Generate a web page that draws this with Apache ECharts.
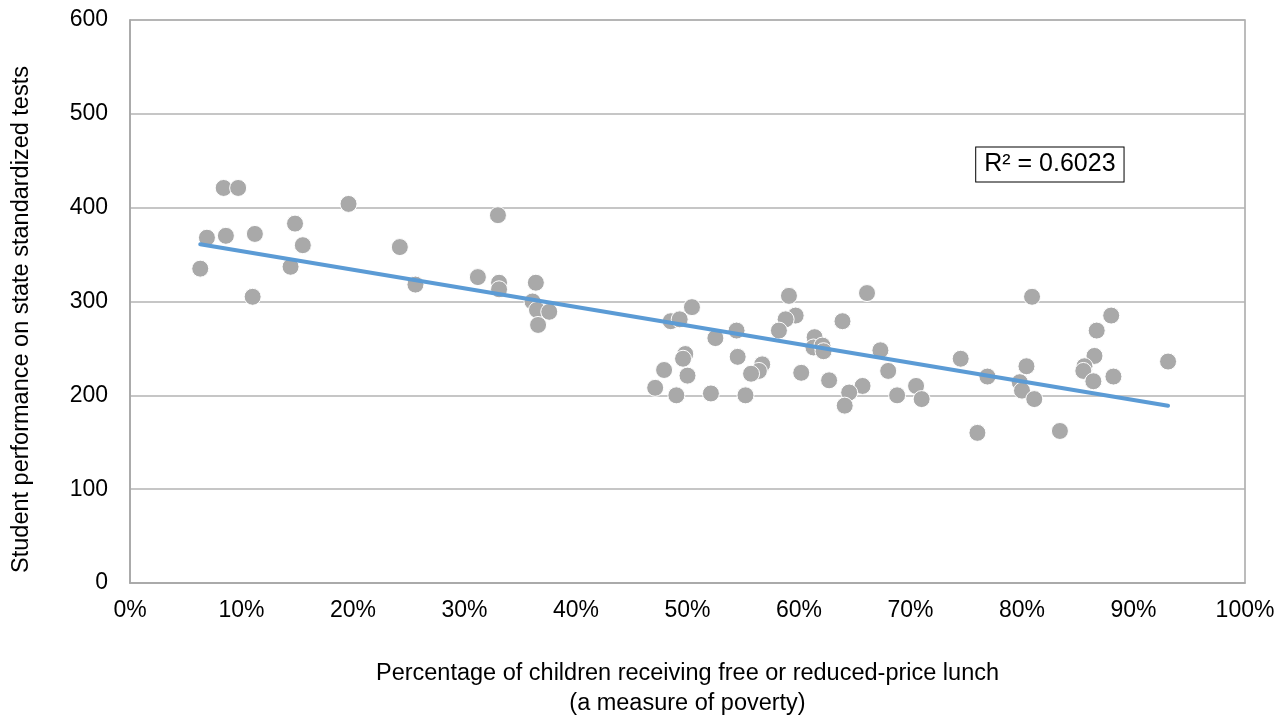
<!DOCTYPE html>
<html>
<head>
<meta charset="utf-8">
<script src="https://cdn.jsdelivr.net/npm/echarts@6/dist/echarts.min.js"></script>
<style>
html,body{margin:0;padding:0;background:#fff;}
#chart{width:1283px;height:715px;}
</style>
</head>
<body>
<div id="chart"></div>
<script>
// Percentage of children receiving free or reduced-price lunch
const xPct = [6.3, 6.9, 8.4, 9.7, 8.6, 11.0, 11.2, 14.4, 14.8, 15.5, 19.6, 24.2, 25.6, 31.2, 33.0, 33.1, 33.1, 36.4, 36.1, 36.5, 37.6, 36.6,
  50.4, 48.5, 49.3, 52.5, 54.4, 59.1, 59.7, 58.8, 58.2, 49.8, 49.6, 47.9, 50.0, 47.1, 49.0, 52.1, 54.5, 56.7, 56.4, 55.7, 55.2, 60.2,
  66.1, 63.9, 61.4, 61.3, 62.1, 62.2, 67.3, 62.7, 68.0, 65.7, 64.5, 64.1, 68.8, 70.5, 71.0, 74.5,
  80.9, 76.9, 80.4, 79.8, 80.0, 81.1, 76.0, 83.4, 88.0, 86.7, 86.5, 85.6, 85.5, 86.4, 88.2, 93.1];
// Student performance on state standardized tests
const yScore = [335, 368, 421, 421, 370, 305, 372, 337, 383, 360, 404, 358, 318, 326, 392, 320, 313, 320, 300, 291, 289, 275,
  294, 279, 281, 261, 269, 306, 285, 281, 269, 244, 239, 227, 221, 208, 200, 202, 241, 233, 226, 223, 200, 224,
  309, 279, 262, 251, 253, 247, 248, 216, 226, 210, 203, 189, 200, 210, 196, 239,
  305, 220, 231, 214, 205, 196, 160, 162, 285, 269, 242, 231, 226, 215, 220, 236];
// Linear trendline endpoints (as drawn)
const trendX = [6.3, 93.1];
const trendY = [361, 189];
const xTicks = {min: 0, max: 100, interval: 10};
const yTicks = {min: 0, max: 600, interval: 100};
const r2Label = 'R² = 0.6023';
const r2Anchor = [82.5, 446];

const chart = echarts.init(document.getElementById('chart'), null, {renderer: 'canvas'});
const font = '"Liberation Sans", Arial, sans-serif';
const pts = xPct.map((x, i) => [x, yScore[i]]);
const trend = trendX.map((x, i) => [x, trendY[i]]);

chart.setOption({
  animation: false,
  backgroundColor: '#ffffff',
  grid: {left: 130, top: 20, right: 38, bottom: 132, show: true, borderColor: '#a6a6a6', borderWidth: 1.5,
         containLabel: false, outerBoundsMode: 'none'},
  xAxis: {
    type: 'value', min: xTicks.min, max: xTicks.max, interval: xTicks.interval,
    axisLine: {show: true, onZero: false, lineStyle: {color: '#a6a6a6', width: 1.5}},
    axisTick: {show: false},
    splitLine: {show: false},
    axisLabel: {formatter: '{value}%', color: '#000', fontFamily: font, fontSize: 23, margin: 16},
    name: 'Percentage of children receiving free or reduced-price lunch\n(a measure of poverty)',
    nameLocation: 'middle', nameGap: 76,
    nameTextStyle: {color: '#000', fontFamily: font, fontSize: 23.5, lineHeight: 30}
  },
  yAxis: {
    type: 'value', min: yTicks.min, max: yTicks.max, interval: yTicks.interval,
    axisLine: {show: true, lineStyle: {color: '#a6a6a6', width: 1.5}},
    axisTick: {show: false},
    splitLine: {show: true, lineStyle: {color: '#b3b3b3', width: 1.5}},
    axisLabel: {color: '#000', fontFamily: font, fontSize: 23, margin: 22},
    name: 'Student performance on state standardized tests',
    nameLocation: 'middle', nameGap: 96,
    nameTextStyle: {color: '#000', fontFamily: font, fontSize: 23.5, padding: [0, 36, 0, 0]}
  },
  series: [
    {
      type: 'scatter', data: pts, symbol: 'circle', symbolSize: 17, z: 2,
      itemStyle: {color: '#a9a9a9', borderColor: '#ffffff', borderWidth: 1, opacity: 1}
    },
    {
      type: 'line', data: trend, showSymbol: false, symbol: 'none', z: 3,
      lineStyle: {color: '#5b9bd5', width: 4, cap: 'round'}
    }
  ]
});

const p = chart.convertToPixel({gridIndex: 0}, r2Anchor);
chart.setOption({
  graphic: [{
    type: 'text', x: p[0], y: p[1], z: 10,
    style: {
      text: r2Label, fontFamily: font, fontSize: 25, fill: '#000',
      align: 'center', verticalAlign: 'middle',
      backgroundColor: '#fff', borderColor: '#000', borderWidth: 1, padding: [5, 8, 4, 8]
    }
  }]
});
</script>
</body>
</html>
